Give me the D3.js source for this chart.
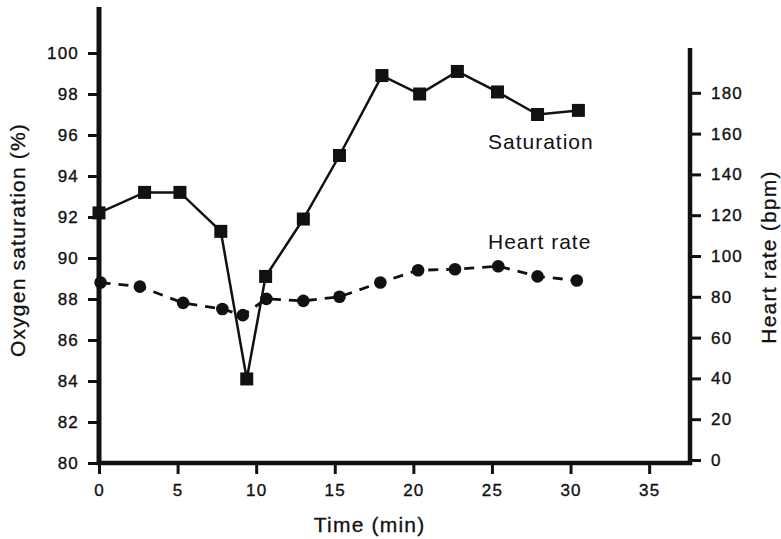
<!DOCTYPE html>
<html>
<head>
<meta charset="utf-8">
<script src="https://cdn.jsdelivr.net/npm/d3@7"></script>
<style>
  body { margin: 0; background: #fff; }
  text { font-family: "Liberation Sans", Arial, Helvetica, sans-serif; fill: #111; }
</style>
</head>
<body>
<div id="chart"></div>
<script>
// values
var satTime = [0, 2.9, 5.15, 7.75, 9.4, 10.6, 13.0, 15.3, 18.0, 20.4, 22.8, 25.35, 27.9, 30.5];
var saturation = [92.2, 93.2, 93.2, 91.3, 84.1, 89.1, 91.9, 95.0, 98.9, 98.0, 99.1, 98.1, 97.0, 97.2];
var hrTime = [0.1, 2.6, 5.35, 7.85, 9.15, 10.65, 13.0, 15.3, 17.9, 20.3, 22.65, 25.4, 27.9, 30.4];
var heartRate = [87, 85, 77, 74, 71, 79, 78, 80, 87, 93, 93.5, 95, 90, 88];
var xTicks = [0, 5, 10, 15, 20, 25, 30, 35];
var leftTicks = [80, 82, 84, 86, 88, 90, 92, 94, 96, 98, 100];
var rightTicks = [0, 20, 40, 60, 80, 100, 120, 140, 160, 180];

var width = 781, height = 539;

var svg = d3.select("#chart")
  .append("svg")
    .attr("width", width)
    .attr("height", height);

var x = d3.scaleLinear().domain([0, 37.6]).range([99, 690]);
var yL = d3.scaleLinear().domain([80, 100]).range([463, 53]);
var yR = d3.scaleLinear().domain([0, 200]).range([460, 52]);

// axes
var xAxis = svg.append("g")
  .attr("transform", "translate(0," + yL(80) + ")")
  .call(d3.axisBottom(x).tickValues(xTicks).tickSize(11).tickPadding(10));

var leftAxis = svg.append("g")
  .attr("transform", "translate(" + x(0) + ",0)")
  .call(d3.axisLeft(yL).tickValues(leftTicks).tickSize(11).tickPadding(9));

var rightAxis = svg.append("g")
  .attr("transform", "translate(" + x(37.6) + ",0)")
  .call(d3.axisRight(yR).tickValues(rightTicks).tickSize(11).tickPadding(10));

[xAxis, leftAxis, rightAxis].forEach(function(a) {
  a.select(".domain").remove();
  a.selectAll(".tick line").attr("stroke", "#111").attr("stroke-width", 3);
  a.selectAll(".tick text")
    .style("font-size", "17px")
    .style("letter-spacing", "1.2px")
    .attr("fill", "#111")
    .attr("stroke", "#111")
    .attr("stroke-width", 0.35);
});

// frame lines
svg.append("line")
  .attr("x1", x(0)).attr("x2", x(0))
  .attr("y1", 7).attr("y2", yL(80) + 2)
  .attr("stroke", "#111").attr("stroke-width", 5);
svg.append("line")
  .attr("x1", x(0) - 2).attr("x2", x(37.6) + 2)
  .attr("y1", yL(80)).attr("y2", yL(80))
  .attr("stroke", "#111").attr("stroke-width", 4.5);
svg.append("line")
  .attr("x1", x(37.6)).attr("x2", x(37.6))
  .attr("y1", 48).attr("y2", yL(80) + 2)
  .attr("stroke", "#111").attr("stroke-width", 4.5);

// axis titles
function title(sel) {
  return sel
    .attr("text-anchor", "middle")
    .style("font-size", "21px")
    .style("letter-spacing", "1.2px")
    .attr("stroke", "#111")
    .attr("stroke-width", 0.3);
}

title(svg.append("text"))
  .attr("transform", "translate(" + (x(17.6) - 6) + "," + 532 + ")")
  .text("Time (min)");

title(svg.append("text"))
  .attr("transform", "translate(25,240) rotate(-90)")
  .text("Oxygen saturation (%)");

title(svg.append("text"))
  .attr("transform", "translate(776,257) rotate(-90)")
  .text("Heart rate (bpm)");

// heart rate (dashed, circles)
var hrData = hrTime.map(function(t, i) { return {t: t, v: heartRate[i]}; });
svg.append("path")
  .datum(hrData)
  .attr("fill", "none")
  .attr("stroke", "#111")
  .attr("stroke-width", 2.8)
  .attr("stroke-dasharray", "10,8")
  .attr("d", d3.line().x(function(d) { return x(d.t); }).y(function(d) { return yR(d.v); }));

svg.append("g")
  .selectAll("circle")
  .data(hrData)
  .enter()
  .append("circle")
    .attr("cx", function(d) { return x(d.t); })
    .attr("cy", function(d) { return yR(d.v); })
    .attr("r", 6.3)
    .attr("fill", "#111");

// saturation (solid, squares)
var satData = satTime.map(function(t, i) { return {t: t, v: saturation[i]}; });
svg.append("path")
  .datum(satData)
  .attr("fill", "none")
  .attr("stroke", "#111")
  .attr("stroke-width", 2.5)
  .attr("d", d3.line().x(function(d) { return x(d.t); }).y(function(d) { return yL(d.v); }));

svg.append("g")
  .selectAll("rect")
  .data(satData)
  .enter()
  .append("rect")
    .attr("x", function(d) { return x(d.t) - 6.5; })
    .attr("y", function(d) { return yL(d.v) - 6.5; })
    .attr("width", 13)
    .attr("height", 13)
    .attr("fill", "#111");

// series labels
svg.append("text")
  .attr("x", 488).attr("y", 149)
  .style("font-size", "21px")
  .style("letter-spacing", "1px")
  .text("Saturation");

svg.append("text")
  .attr("x", 488).attr("y", 249)
  .style("font-size", "21px")
  .style("letter-spacing", "1px")
  .text("Heart rate");
</script>
</body>
</html>
